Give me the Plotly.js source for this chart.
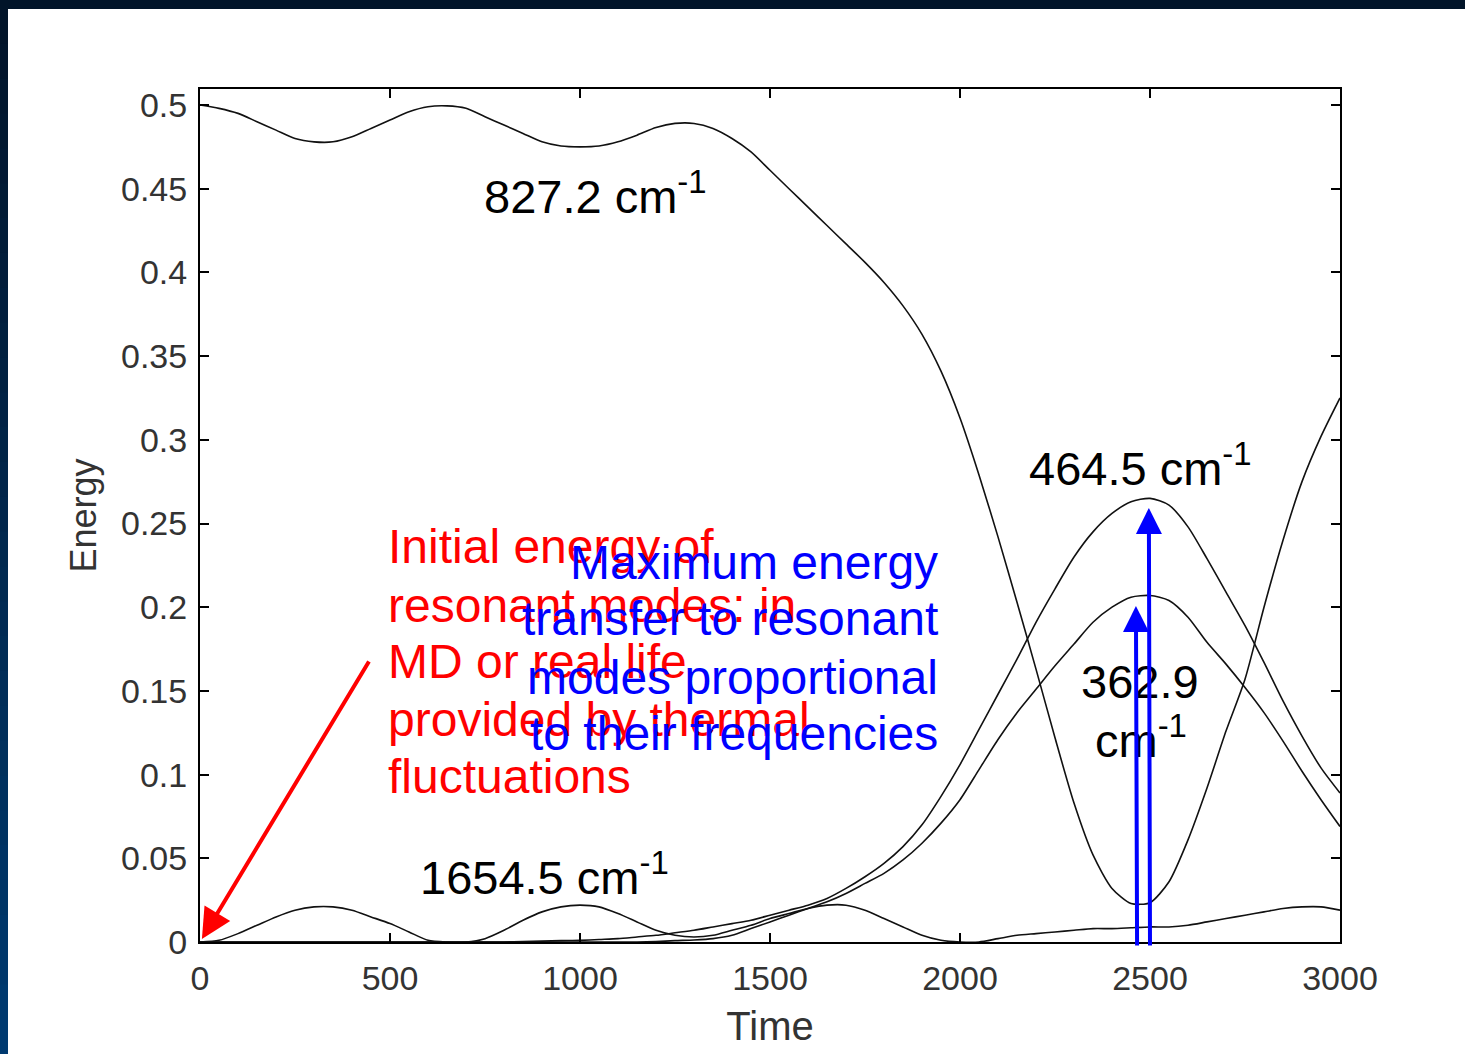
<!DOCTYPE html>
<html>
<head>
<meta charset="utf-8">
<script src="https://cdn.plot.ly/plotly-3.0.1.min.js"></script>
<style>
html,body{margin:0;padding:0;background:#ffffff;}
#chart{width:1465px;height:1054px;}
</style>
</head>
<body>
<div id="chart"></div>
<script>
// ---- data ----
var time = [0,50,100,150,200,250,300,350,400,450,500,550,600,650,700,750,800,850,900,950,
            1000,1050,1100,1150,1200,1250,1300,1350,1400,1450,1500,1550,1600,1650,1700,1750,1800,1850,1900,1950,
            2000,2050,2100,2150,2200,2250,2300,2350,2400,2450,2500,2550,2600,2650,2700,2750,2800,2850,2900,2950,3000];

var mode827 = [0.500,0.498,0.495,0.490,0.485,0.480,0.478,0.478,0.481,0.486,0.491,0.496,0.499,0.4995,0.498,0.493,0.488,0.483,0.478,0.4755,
               0.475,0.4755,0.478,0.482,0.4865,0.489,0.489,0.486,0.480,0.472,0.461,0.450,0.439,0.428,0.417,0.406,0.394,0.380,0.363,0.341,
               0.313,0.279,0.242,0.203,0.163,0.122,0.083,0.052,0.032,0.023,0.0235,0.036,0.061,0.092,0.126,0.157,0.200,0.240,0.275,0.302,0.325];

var mode464 = [0,0,0,0,0,0,0,0,0,0,0,0,0,0,0,0,0,0.0003,0.0005,0.0008,
               0.001,0.0015,0.002,0.003,0.004,0.0055,0.007,0.009,0.011,0.013,0.016,0.019,0.022,0.026,0.032,0.039,0.047,0.057,0.070,0.087,
               0.106,0.127,0.148,0.169,0.191,0.211,0.230,0.245,0.256,0.263,0.265,0.261,0.248,0.229,0.209,0.189,0.167,0.144,0.123,0.104,0.089];

var mode363 = [0,0,0,0,0,0,0,0,0,0,0,0,0,0,0,0,0,0,0,0,
               0,0,0,0,0.0003,0.0008,0.0012,0.002,0.004,0.008,0.012,0.016,0.020,0.024,0.029,0.035,0.041,0.049,0.059,0.071,
               0.085,0.103,0.121,0.137,0.151,0.165,0.178,0.191,0.200,0.206,0.207,0.204,0.194,0.179,0.166,0.152,0.137,0.120,0.102,0.085,0.069];

var mode1654 = [0,0.001,0.005,0.010,0.015,0.019,0.021,0.021,0.019,0.015,0.011,0.006,0.001,0,0,0.002,0.007,0.013,0.018,0.021,
                0.022,0.021,0.017,0.012,0.007,0.004,0.003,0.004,0.007,0.010,0.014,0.017,0.020,0.022,0.022,0.019,0.014,0.009,0.004,0.001,
                0,0,0.002,0.004,0.005,0.006,0.007,0.008,0.008,0.0085,0.009,0.009,0.010,0.012,0.014,0.016,0.018,0.020,0.021,0.021,0.019];

var xTickVals = [0,500,1000,1500,2000,2500,3000];
var xTickText = ['0','500','1000','1500','2000','2500','3000'];
var yTickVals = [0,0.05,0.1,0.15,0.2,0.25,0.3,0.35,0.4,0.45,0.5];
var yTickText = ['0','0.05','0.1','0.15','0.2','0.25','0.3','0.35','0.4','0.45','0.5'];

// labels of the curves (black)
var modeLabels = ['827.2 cm<sup>-1</sup>','464.5 cm<sup>-1</sup>','362.9','cm<sup>-1</sup>','1654.5 cm<sup>-1</sup>'];
var modeLabelX = [1042,2474,2474,2476,906];
var modeLabelY = [0.4474,0.2849,0.1559,0.1225,0.0406];

// red note (left aligned)
var redNote = ['Initial energy of','resonant modes: in','MD or real life','provided by thermal','fluctuations'];
var redNoteX = 489;
var redNoteY = [0.2360,0.2013,0.1673,0.1332,0.0986];

// blue note (right aligned)
var blueNote = ['Maximum energy','transfer to resonant','modes proportional','to their frequencies'];
var blueNoteX = 1947;
var blueNoteY = [0.2270,0.1930,0.1583,0.1243];

// arrows: tip and tail positions, colour
var arrowTipX  = [5, 2497, 2463];
var arrowTipY  = [0.0018, 0.2593, 0.2007];
var arrowTailX = [447, 2500, 2466];
var arrowTailY = [0.1685, -0.003, -0.003];
var arrowColor = ['#ff0000','#0000ff','#0000ff'];
var arrowSize  = [1.5, 1.3, 1.3];

// ---- traces ----
function curve(name, ys){
  return {x:time, y:ys, type:'scatter', mode:'lines', name:name, hoverinfo:'x+y',
          line:{color:'#111111', width:1.6, shape:'spline', smoothing:0.7}};
}
var traces = [
  curve('827.2 cm-1', mode827),
  curve('464.5 cm-1', mode464),
  curve('362.9 cm-1', mode363),
  curve('1654.5 cm-1', mode1654)
];

var textFont = 'Liberation Sans, Arial, sans-serif';
var annotations = [];
modeLabels.forEach(function(t,i){
  annotations.push({x:modeLabelX[i], y:modeLabelY[i], xref:'x', yref:'y', text:t, showarrow:false,
    xanchor:'center', yanchor:'middle', font:{family:textFont, size:47, color:'#000000'}});
});
redNote.forEach(function(t,i){
  annotations.push({x:redNoteX, y:redNoteY[i], xref:'x', yref:'y', text:t, showarrow:false,
    xanchor:'left', yanchor:'middle', font:{family:textFont, size:48, color:'#ff0000'}});
});
blueNote.forEach(function(t,i){
  annotations.push({x:blueNoteX, y:blueNoteY[i], xref:'x', yref:'y', text:t, showarrow:false,
    xanchor:'right', yanchor:'middle', font:{family:textFont, size:48, color:'#0000ff'}});
});
arrowTipX.forEach(function(v,i){
  annotations.push({x:v, y:arrowTipY[i], xref:'x', yref:'y', ax:arrowTailX[i], ay:arrowTailY[i],
    axref:'x', ayref:'y', text:'', showarrow:true, arrowhead:2, arrowsize:arrowSize[i], arrowwidth:4,
    arrowcolor:arrowColor[i], standoff:0, startstandoff:0});
});

// frame of the slide: dark top band and dark left band with a gradient
var shapes = [];
var W = 1465, H = 1054, mL = 200, mR = 125, mT = 89, mB = 112;
var pw = W - mL - mR, ph = H - mT - mB;
function px2paperX(p){ return (p - mL) / pw; }
function px2paperY(p){ return (H - mB - p) / ph; }
shapes.push({type:'rect', xref:'paper', yref:'paper', x0:px2paperX(0), x1:px2paperX(W), y0:px2paperY(0), y1:px2paperY(9),
  fillcolor:'#011429', line:{width:0}, layer:'below'});
var nSeg = 30;
for (var k = 0; k < nSeg; k++) {
  var f = k / (nSeg - 1);
  var r = Math.round(2 + f * (0 - 2));
  var g = Math.round(20 + f * (58 - 20));
  var b = Math.round(41 + f * (112 - 41));
  var y0 = 9 + k * (H - 9) / nSeg, y1 = 9 + (k + 1) * (H - 9) / nSeg + 1;
  shapes.push({type:'rect', xref:'paper', yref:'paper', x0:px2paperX(0), x1:px2paperX(8),
    y0:px2paperY(y0), y1:px2paperY(Math.min(y1, H)), fillcolor:'rgb(' + r + ',' + g + ',' + b + ')',
    line:{width:0}, layer:'below'});
}

var tickFont = {family:'Liberation Sans, Arial, sans-serif', size:34, color:'#333333'};
var layout = {
  width:W, height:H,
  margin:{l:mL, r:mR, t:mT, b:mB, pad:0},
  paper_bgcolor:'#ffffff', plot_bgcolor:'#ffffff',
  showlegend:false,
  xaxis:{range:[0,3000], tickvals:xTickVals, ticktext:xTickText, ticks:'inside', ticklen:9, tickwidth:2,
    tickcolor:'#000000', showline:true, linewidth:2, linecolor:'#000000', mirror:'ticks',
    showgrid:false, zeroline:false, tickfont:tickFont, ticklabelstandoff:5, automargin:false,
    title:{text:'Time', font:{family:'Liberation Sans, Arial, sans-serif', size:40, color:'#333333'}, standoff:16}},
  yaxis:{range:[0,0.50956], tickvals:yTickVals, ticktext:yTickText, ticks:'inside', ticklen:9, tickwidth:2,
    tickcolor:'#000000', showline:true, linewidth:2, linecolor:'#000000', mirror:'ticks',
    showgrid:false, zeroline:false, tickfont:tickFont, ticklabelstandoff:4, automargin:false,
    title:{text:'Energy', font:{family:'Liberation Sans, Arial, sans-serif', size:36, color:'#333333'}, standoff:13}},
  annotations:annotations,
  shapes:shapes
};

Plotly.newPlot('chart', traces, layout, {displayModeBar:false});
</script>
</body>
</html>
